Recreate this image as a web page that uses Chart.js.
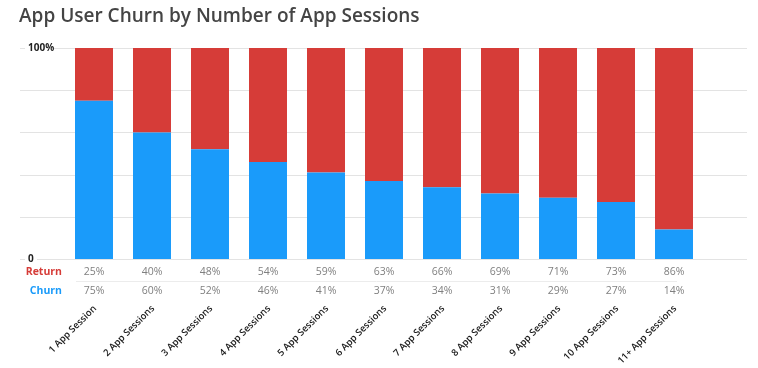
<!DOCTYPE html>
<html>
<head>
<meta charset="utf-8">
<script src="https://cdn.jsdelivr.net/npm/chart.js@4/dist/chart.umd.min.js"></script>
<style>
  html, body { margin: 0; padding: 0; background: #fff; }
  #wrap { width: 758px; height: 368px; position: relative; }
</style>
</head>
<body>
<div id="wrap"><canvas id="chart" width="758" height="368"></canvas></div>
<script>
const title = 'App User Churn by Number of App Sessions';
const sessions = ['1 App Session', '2 App Sessions', '3 App Sessions', '4 App Sessions',
  '5 App Sessions', '6 App Sessions', '7 App Sessions', '8 App Sessions',
  '9 App Sessions', '10 App Sessions', '11+ App Sessions'];
const churn = [75, 60, 52, 46, 41, 37, 34, 31, 29, 27, 14];
const returned = [25, 40, 48, 54, 59, 63, 66, 69, 71, 73, 86];
const yTicks = [0, 20, 40, 60, 80, 100];

const RED = '#d63c38';
const BLUE = '#1a9bfa';
const FONT = '"Open Sans", sans-serif';

// grid lines run wider than the plot, with a gap behind the labelled ticks
const gridPlugin = {
  id: 'grid',
  beforeDraw(chart) {
    const { ctx } = chart;
    const y = chart.scales.y;
    ctx.save();
    ctx.strokeStyle = '#e3e3e3';
    ctx.lineWidth = 1;
    yTicks.forEach(v => {
      const py = Math.round(y.getPixelForValue(v)) + 0.5;
      ctx.beginPath();
      if (v === 0 || v === 100) {
        ctx.moveTo(20, py); ctx.lineTo(25, py);
        ctx.moveTo(v === 0 ? 37 : 53, py);
      } else {
        ctx.moveTo(20, py);
      }
      ctx.lineTo(747, py);
      ctx.stroke();
    });
    ctx.restore();
  },
  afterDraw(chart) {
    const { ctx } = chart;
    const x = chart.scales.x;
    ctx.save();

    // title
    ctx.fillStyle = '#444';
    ctx.font = '600 19px ' + FONT;
    ctx.textBaseline = 'middle';
    ctx.textAlign = 'left';
    ctx.fillText(title, 19, 17);

    // value table
    const rowReturn = 272, rowChurn = 291;
    ctx.font = 'bold 10.5px ' + FONT;
    ctx.textAlign = 'right';
    ctx.fillStyle = RED;
    ctx.fillText('Return', 62, rowReturn);
    ctx.fillStyle = BLUE;
    ctx.fillText('Churn', 62, rowChurn);

    ctx.strokeStyle = '#ececec';
    ctx.beginPath();
    ctx.moveTo(76, 281.5);
    ctx.lineTo(677, 281.5);
    ctx.stroke();

    ctx.font = '10.5px ' + FONT;
    ctx.textAlign = 'center';
    ctx.fillStyle = '#808080';
    sessions.forEach((s, i) => {
      const px = x.getPixelForValue(i);
      ctx.fillText(returned[i] + '%', px, rowReturn);
      ctx.fillText(churn[i] + '%', px, rowChurn);
    });

    // rotated category labels
    ctx.font = '600 9.5px ' + FONT;
    ctx.fillStyle = '#1a1a1a';
    ctx.textAlign = 'right';
    ctx.textBaseline = 'middle';
    sessions.forEach((s, i) => {
      const px = x.getPixelForValue(i);
      ctx.save();
      ctx.translate(px + 1, 307);
      ctx.rotate(-Math.PI / 4);
      ctx.fillText(s, 0, 0);
      ctx.restore();
    });
    ctx.restore();
  }
};

new Chart(document.getElementById('chart'), {
  type: 'bar',
  data: {
    labels: sessions,
    datasets: [
      { label: 'Churn', data: churn, backgroundColor: BLUE },
      { label: 'Return', data: returned, backgroundColor: RED }
    ]
  },
  options: {
    responsive: false,
    animation: false,
    layout: { padding: { left: 28, right: 55, top: 48, bottom: 109 } },
    datasets: { bar: { categoryPercentage: 1, barPercentage: 0.655 } },
    plugins: { legend: { display: false }, tooltip: { enabled: false }, title: { display: false } },
    scales: {
      x: { stacked: true, display: false },
      y: {
        stacked: true, min: 0, max: 100,
        afterFit(scale) { scale.width = 37; },
        afterBuildTicks(scale) { scale.ticks = yTicks.map(v => ({ value: v })); },
        grid: { display: false },
        border: { display: false },
        ticks: {
          crossAlign: 'far',
          padding: 0,
          color: '#222',
          font: { family: FONT, size: 10, weight: 'bold' },
          callback: v => v === 100 ? '100%' : (v === 0 ? '0' : '')
        }
      }
    }
  },
  plugins: [gridPlugin]
});
</script>
</body>
</html>
